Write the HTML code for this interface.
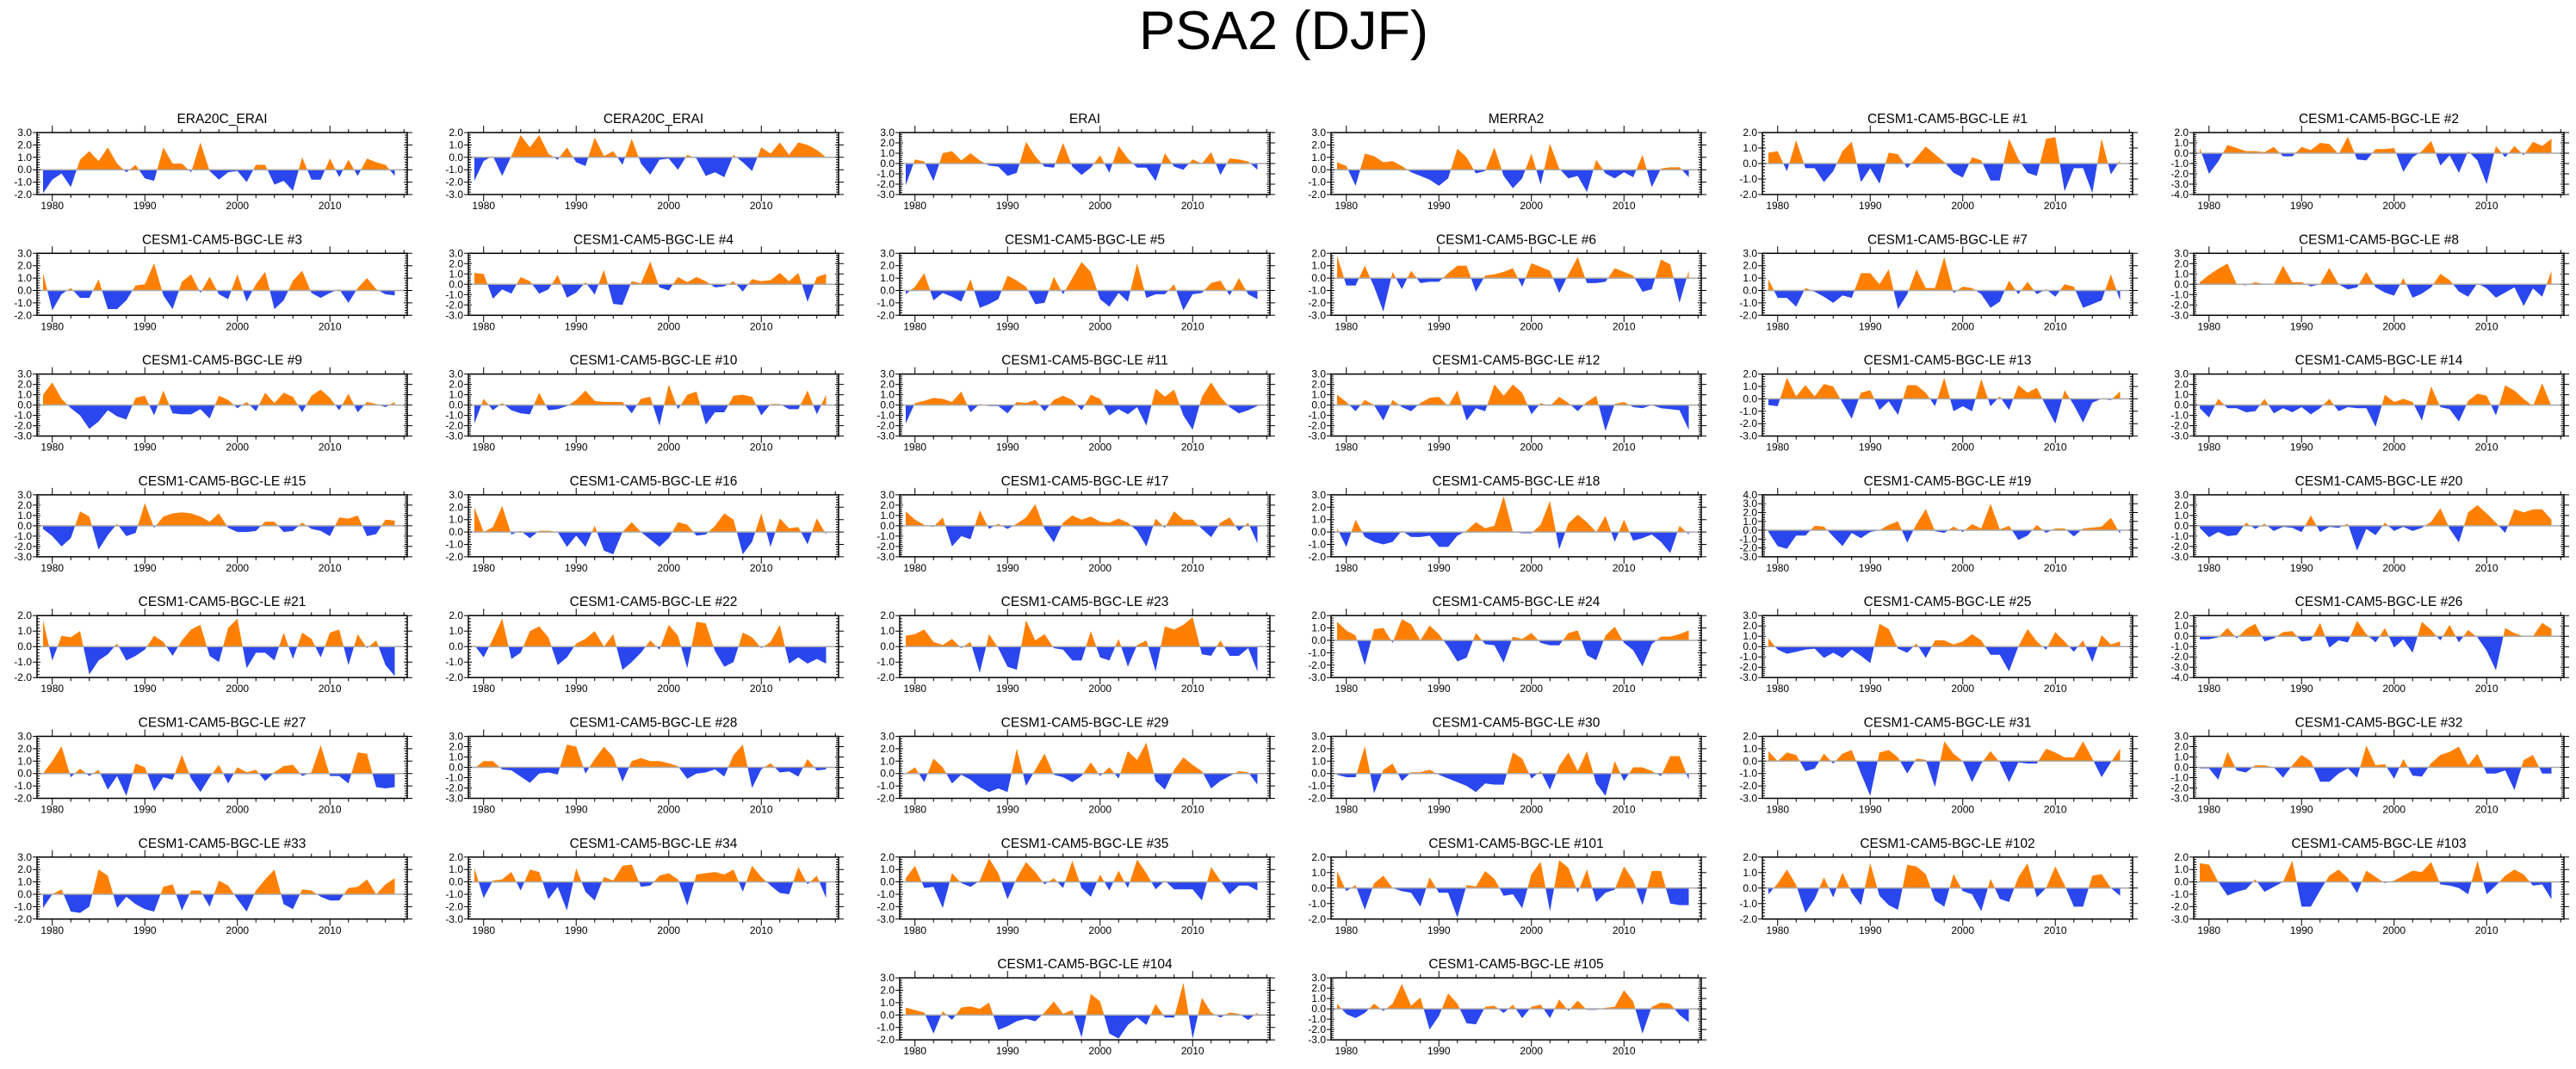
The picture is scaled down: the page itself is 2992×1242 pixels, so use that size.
<!DOCTYPE html>
<html><head><meta charset="utf-8"><title>PSA2 (DJF)</title>
<style>html,body{margin:0;padding:0;background:#fff;}svg{display:block;}</style></head>
<body>
<svg id="chart" xmlns="http://www.w3.org/2000/svg" width="2992" height="1242" viewBox="0 0 2992 1242" font-family="Liberation Sans, sans-serif">
<rect x="0" y="0" width="2992" height="1242" fill="#fff"/>
<text x="1491" y="57" font-size="63" text-anchor="middle" fill="#000">PSA2 (DJF)</text>
<g id="panels"></g>
</svg>
<script>
const panelNames = ["ERA20C_ERAI","CERA20C_ERAI","ERAI","MERRA2","CESM1-CAM5-BGC-LE #1","CESM1-CAM5-BGC-LE #2",
"CESM1-CAM5-BGC-LE #3","CESM1-CAM5-BGC-LE #4","CESM1-CAM5-BGC-LE #5","CESM1-CAM5-BGC-LE #6","CESM1-CAM5-BGC-LE #7","CESM1-CAM5-BGC-LE #8",
"CESM1-CAM5-BGC-LE #9","CESM1-CAM5-BGC-LE #10","CESM1-CAM5-BGC-LE #11","CESM1-CAM5-BGC-LE #12","CESM1-CAM5-BGC-LE #13","CESM1-CAM5-BGC-LE #14",
"CESM1-CAM5-BGC-LE #15","CESM1-CAM5-BGC-LE #16","CESM1-CAM5-BGC-LE #17","CESM1-CAM5-BGC-LE #18","CESM1-CAM5-BGC-LE #19","CESM1-CAM5-BGC-LE #20",
"CESM1-CAM5-BGC-LE #21","CESM1-CAM5-BGC-LE #22","CESM1-CAM5-BGC-LE #23","CESM1-CAM5-BGC-LE #24","CESM1-CAM5-BGC-LE #25","CESM1-CAM5-BGC-LE #26",
"CESM1-CAM5-BGC-LE #27","CESM1-CAM5-BGC-LE #28","CESM1-CAM5-BGC-LE #29","CESM1-CAM5-BGC-LE #30","CESM1-CAM5-BGC-LE #31","CESM1-CAM5-BGC-LE #32",
"CESM1-CAM5-BGC-LE #33","CESM1-CAM5-BGC-LE #34","CESM1-CAM5-BGC-LE #35","CESM1-CAM5-BGC-LE #101","CESM1-CAM5-BGC-LE #102","CESM1-CAM5-BGC-LE #103",
"CESM1-CAM5-BGC-LE #104","CESM1-CAM5-BGC-LE #105"];
const yMins = [-2,-3,-3,-2,-2,-4, -2,-3,-2,-3,-2,-3, -3,-3,-3,-3,-3,-3, -3,-2,-3,-2,-3,-3, -2,-2,-2,-3,-3,-4, -2,-3,-2,-2,-3,-3, -2,-3,-3,-2,-2,-3, -2,-3];
const yMaxs = [3,2,3,3,2,2, 3,3,3,2,3,3, 3,3,3,3,2,3, 3,3,3,3,4,3, 2,2,2,2,3,2, 3,3,3,3,2,3, 3,2,2,2,2,2, 3,3];
const years = [];
for (let y = 1979; y <= 2017; y++) years.push(y);
const yearTickLabels = [1980,1990,2000,2010];

const s_era20c = [-1.9,-0.8,-0.3,-1.4,0.8,1.5,0.7,1.8,0.5,-0.2,0.4,-0.7,-0.9,1.8,0.5,0.5,-0.2,2.2,-0.1,-0.8,-0.2,-0.1,-1.0,0.4,0.4,-1.2,-0.9,-1.7,1.0,-0.8,-0.8,0.9,-0.6,0.8,-0.5,0.9,0.6,0.4,-0.5];
const s_cera20c = [-1.9,-0.3,0.1,-1.5,0.1,1.8,0.8,1.8,0.3,-0.2,0.8,-0.4,-0.7,1.6,0.1,0.5,-0.6,1.5,-0.5,-1.4,-0.2,-0.1,-1.0,0.2,-0.1,-1.5,-1.2,-1.6,0.2,-0.4,-1.1,0.8,0.3,1.2,0.2,1.2,1.0,0.6,0.0];
const s_erai = [-2.1,0.4,0.2,-1.7,1.0,1.2,0.3,1.0,0.3,-0.2,-0.3,-1.2,-0.9,2.1,0.7,-0.3,-0.4,2.0,-0.3,-1.1,-0.4,0.8,-0.9,1.7,0.5,-0.4,-0.4,-1.7,1.0,-0.3,-0.6,0.4,0.0,1.1,-1.1,0.5,0.4,0.2,-0.6];
const s_merra2 = [0.6,0.3,-1.3,1.3,1.1,0.6,0.7,0.3,-0.2,-0.5,-0.8,-1.3,-0.7,1.7,1.0,-0.3,-0.1,1.8,-0.5,-1.5,-0.7,1.3,-1.2,2.1,0.1,-0.7,-0.5,-1.8,0.8,-0.3,-0.7,-0.2,-0.6,1.2,-1.4,0.1,0.2,0.2,-0.6];
const s_m1 = [0.7,0.8,-0.5,1.5,-0.3,-0.3,-1.2,-0.5,0.8,1.4,-1.2,-0.3,-1.3,0.7,0.6,-0.3,0.4,1.1,0.6,0.1,-0.6,-0.9,0.4,0.2,-1.1,-1.1,1.6,0.3,-0.6,-0.8,1.6,1.7,-1.8,-0.3,-0.3,-1.9,1.6,-0.7,0.2];
const s_m2 = [0.5,-2.0,-0.8,0.8,0.5,0.2,0.2,0.1,0.6,-0.3,-0.3,0.6,0.3,1.0,0.9,-0.1,1.6,-0.6,-0.7,0.4,0.4,0.5,-1.8,-0.4,0.2,1.2,-1.2,-0.2,-1.9,0.2,-0.7,-3.0,0.7,-0.4,0.7,-0.2,1.1,0.7,1.4];
const s_m3 = [1.4,-1.6,-0.3,0.2,-0.6,-0.6,0.9,-1.5,-1.5,-0.8,0.4,0.5,2.2,-0.4,-1.5,0.7,1.3,-0.2,1.1,-0.3,-0.7,1.3,-0.9,0.5,1.5,-1.5,-0.8,0.8,1.6,-0.2,-0.6,-0.2,0.1,-1.0,0.2,1.0,0.1,-0.3,-0.4];
const s_m4 = [1.1,1.0,-1.4,-0.5,-0.9,0.7,0.3,-0.9,-0.5,0.9,-1.3,-0.8,0.2,-1.0,1.4,-1.9,-2.0,0.3,0.1,2.2,-0.3,-0.6,0.7,0.2,0.7,0.3,-0.3,-0.2,0.3,-0.7,0.5,0.3,0.4,1.1,0.3,1.1,-1.7,0.7,1.0];
const s_m5 = [-0.3,0.3,1.4,-0.8,-0.2,-0.5,-0.9,0.9,-1.4,-1.1,-0.7,1.2,0.8,0.3,-1.1,-1.0,1.1,-0.3,1.0,2.3,1.5,-0.7,-1.3,-0.2,-0.9,2.2,-0.6,-0.3,-0.3,0.5,-1.6,-0.3,-0.2,0.6,0.8,-0.4,1.0,-0.3,-0.7];
const s_m6 = [1.8,-0.6,-0.6,1.0,-0.7,-2.7,0.5,-0.9,0.6,-0.4,-0.3,-0.3,0.4,1.0,1.0,-1.1,0.2,0.3,0.5,0.8,-0.7,1.2,0.9,0.6,-1.2,0.3,1.7,-0.4,-0.4,-0.3,0.8,0.5,0.2,-1.1,-0.9,1.5,1.1,-2.0,0.6];
const s_m7 = [0.9,-0.6,-0.6,-1.3,0.2,-0.1,-0.5,-1.0,-0.4,-0.6,1.4,1.4,0.5,1.7,-1.5,-0.3,1.7,0.2,0.2,2.7,-0.2,0.3,0.2,-0.3,-1.4,-0.9,0.8,-0.3,0.7,-0.3,0.1,-0.5,0.5,0.3,-1.4,-1.1,-0.8,1.3,-0.8];
const s_m8 = [0.2,0.9,1.5,2.0,0.0,-0.1,0.2,0.0,0.0,1.8,0.2,0.2,-0.2,0.0,1.6,0.0,-0.5,-0.3,1.2,-0.3,-0.8,-1.1,0.6,-1.3,-0.9,-0.3,1.0,0.4,-0.7,-1.2,0.1,-0.4,-1.3,-0.8,-0.3,-2.1,-0.4,-1.2,1.3];
const s_m9 = [1.0,2.2,0.6,-0.3,-1.0,-2.3,-1.6,-0.5,-1.1,-1.4,0.7,0.9,-1.0,1.4,-0.8,-0.9,-0.9,-0.4,-1.3,0.9,0.5,-0.3,0.3,-0.6,1.2,0.2,1.2,0.8,-0.7,0.9,1.5,0.7,-0.5,1.1,-0.7,0.3,0.1,-0.2,0.3];
const s_m10 = [-1.8,0.6,-0.5,0.2,-0.5,-0.8,-0.9,1.2,-0.5,-0.4,-0.1,0.5,1.4,0.4,0.3,0.3,0.3,-0.8,0.6,0.8,-2.0,2.0,-0.4,1.0,1.3,-1.9,-0.7,-0.7,0.9,1.0,0.8,-1.0,0.1,0.1,-0.4,-0.4,1.4,-0.9,1.0];
const s_m11 = [-1.8,0.2,0.4,0.7,0.6,0.3,1.3,-0.7,0.1,-0.1,-0.1,-0.8,0.3,0.2,0.5,-0.6,0.5,0.9,0.5,-0.5,1.0,0.6,-1.0,-0.4,-0.9,-0.2,-2.0,1.6,0.8,1.5,-1.0,-2.4,0.8,2.2,0.8,-0.2,-0.8,-0.5,-0.1];
const s_m12 = [1.0,0.3,-0.6,0.5,0.0,-1.5,0.5,-0.2,-0.6,0.2,0.7,0.8,-0.1,1.4,-1.5,-0.3,-0.6,2.0,0.9,2.0,1.2,-0.9,0.2,-0.1,0.8,0.2,-0.6,0.3,0.9,-2.5,0.1,0.3,-0.2,-0.3,0.0,-0.3,-0.4,-0.5,-2.4];
const s_m13 = [-0.5,-0.6,1.7,0.2,1.1,0.2,1.2,1.0,-0.3,-1.6,0.5,0.7,-0.9,-0.2,-1.3,1.1,1.1,0.5,-0.6,1.7,-1.0,-0.6,-1.0,1.6,-0.6,0.2,-0.9,1.1,0.5,0.9,-0.6,-2.0,0.7,-0.5,-1.9,-0.3,0.0,-0.1,0.6];
const s_m14 = [-0.3,-1.2,0.6,-0.3,-0.3,-0.7,-0.6,0.6,-0.8,-0.3,-0.7,-0.2,-0.9,-0.3,0.6,-0.6,-0.2,-0.3,-0.3,-2.1,1.0,0.3,0.6,0.3,-1.5,1.8,-0.2,-0.4,-1.6,0.4,1.1,0.9,-1.0,1.9,1.4,0.6,-0.1,2.1,-0.1];
const s_m15 = [-0.3,-1.0,-2.0,-1.2,1.4,0.9,-2.3,-0.9,0.2,-1.0,-0.7,2.2,-0.2,0.9,1.2,1.3,1.2,0.9,0.4,1.2,-0.2,-0.6,-0.6,-0.5,0.4,0.4,-0.6,-0.5,0.3,-0.3,-0.5,-1.0,0.8,0.7,1.0,-1.0,-0.8,0.6,0.5];
const s_m16 = [2.0,0.0,0.4,2.1,-0.2,0.1,-0.5,0.1,0.1,0.0,-1.2,-0.3,-1.2,0.5,-1.5,-1.8,0.0,0.8,0.0,-0.6,-1.2,-0.5,0.8,0.6,-0.3,-0.2,0.5,1.5,1.0,-1.8,-0.8,1.5,-1.2,1.1,0.3,0.4,-1.0,1.1,-0.2];
const s_m17 = [1.4,0.6,0.1,-0.1,0.8,-2.0,-1.0,-1.3,1.5,-0.3,0.2,-0.3,0.2,0.8,2.1,-0.3,-1.6,0.3,1.0,0.6,0.9,0.4,0.3,0.7,0.3,-0.5,-2.0,0.7,-0.2,1.4,0.6,0.6,-0.3,-1.1,0.3,0.8,-0.5,0.3,-1.7];
const s_m18 = [0.3,-1.2,1.0,-0.4,-0.8,-1.0,-0.8,0.1,-0.4,-0.4,-0.3,-1.2,-1.2,-0.3,0.1,0.8,0.3,0.5,2.9,0.0,-0.1,-0.1,0.6,2.5,-1.4,0.7,1.4,0.8,0.0,1.3,-0.8,1.0,-0.7,-0.5,-0.2,-0.8,-1.7,0.5,-0.2];
const s_m19 = [-0.2,-1.8,-2.1,-0.6,-0.6,0.5,0.4,-0.7,-1.8,-0.3,-0.9,-0.2,0.0,0.6,1.0,-1.4,0.7,2.4,-0.1,-0.3,0.4,-0.2,0.7,0.2,3.0,0.1,0.5,-1.1,-0.6,0.6,-0.3,0.2,0.2,-0.7,0.2,0.3,0.4,1.4,-0.4];
const s_m20 = [-0.2,-1.1,-0.6,-1.0,-0.9,0.3,-0.3,0.2,-0.5,-0.1,-0.2,-0.6,1.0,-0.6,-0.1,-0.2,0.2,-2.4,-0.3,-0.9,0.3,-0.5,-0.1,-0.5,-0.2,0.4,1.7,-0.3,-1.6,1.3,2.0,1.2,0.3,-0.7,1.6,1.3,1.6,1.6,0.6];
const s_m21 = [1.7,-0.9,0.7,0.6,1.0,-1.8,-0.9,-0.5,0.2,-0.9,-0.6,-0.2,0.7,0.3,-0.6,0.4,1.1,1.4,-0.6,-1.0,1.2,1.8,-1.4,-0.4,-0.4,-0.9,0.9,-0.8,0.9,0.5,-0.7,0.9,1.1,-1.2,0.8,-0.1,0.4,-1.2,-1.9];
const s_m22 = [0.1,-0.7,0.5,1.8,-0.8,-0.4,1.0,1.3,0.6,-1.2,-0.7,0.2,0.5,1.0,0.0,0.8,-1.5,-1.0,-0.4,0.4,-0.2,1.4,0.7,-1.4,1.6,1.5,-0.3,-1.3,-1.0,0.9,0.6,-0.1,0.3,1.4,-1.1,-0.7,-1.1,-0.8,-1.1];
const s_m23 = [0.7,0.8,1.1,0.3,0.1,0.5,-0.1,0.3,-1.7,0.8,-0.1,-1.3,-1.5,1.7,0.4,0.8,-0.1,-0.2,-0.9,-0.9,1.0,-0.7,-0.9,0.5,-1.3,0.1,0.4,-1.6,1.3,1.1,1.4,1.9,-0.5,-0.6,0.4,-0.6,-0.6,-0.1,-1.6];
const s_m24 = [1.5,0.8,0.4,-2.0,0.9,1.0,-0.2,1.7,1.3,0.0,1.2,0.5,-0.5,-1.7,-1.4,0.6,-0.3,-0.4,-1.8,0.3,0.1,0.6,-0.2,-0.4,-0.4,0.6,0.8,-1.2,-1.6,0.4,1.1,-0.2,-0.8,-2.1,-0.3,0.3,0.3,0.5,0.8];
const s_m25 = [0.8,-0.3,-0.7,-0.5,-0.3,-0.2,-1.1,-0.6,-1.1,-0.3,-0.9,-1.6,2.2,1.7,-0.2,-0.6,0.3,-1.1,0.6,0.6,0.2,0.5,1.2,0.6,-0.8,-0.8,-2.4,0.0,1.7,0.5,-0.3,1.4,0.5,-0.5,0.6,-1.5,1.1,0.2,0.5];
const s_m26 = [-0.3,-0.3,-0.1,0.8,-0.2,0.7,1.2,-0.5,-0.2,0.4,0.5,-0.5,-0.4,1.3,-1.1,-0.4,-0.6,1.5,0.2,-0.6,0.8,-1.1,-0.3,-1.6,1.4,0.6,-0.4,1.1,-0.6,0.6,-0.1,-1.4,-3.3,0.8,0.3,0.0,0.0,1.3,0.7];
const s_m27 = [0.0,1.0,2.2,-0.3,0.4,-0.2,0.3,-1.3,-0.2,-1.8,0.8,0.5,-1.4,-0.3,-0.5,1.5,-0.4,-1.5,-0.3,0.7,-0.8,0.5,0.1,0.3,-0.6,0.1,0.6,0.7,-0.2,0.1,2.3,-0.2,-0.2,-0.8,1.7,1.6,-1.1,-1.2,-1.1];
const s_m28 = [-0.1,0.6,0.6,-0.2,-0.3,-0.9,-1.5,-0.6,-0.5,-0.7,2.2,2.0,-0.6,0.8,2.0,1.0,-1.4,0.6,0.9,0.6,0.6,0.4,0.1,-1.1,-0.6,-0.5,-0.2,-0.9,1.2,2.2,-2.0,-0.2,0.4,-0.5,-0.4,-0.9,0.8,-0.3,-0.2];
const s_m29 = [0.0,0.5,-0.7,1.2,0.5,-0.8,-0.1,-0.5,-1.1,-1.5,-1.2,-1.5,2.0,-1.0,0.3,1.6,-0.1,-0.3,-0.7,-0.2,0.9,-0.2,0.5,-0.4,1.8,1.1,2.5,-0.6,-1.3,0.3,1.3,0.7,0.2,-1.2,-0.6,-0.2,0.2,0.1,-0.9];
const s_m30 = [-0.1,-0.3,-0.3,2.2,-1.6,0.3,0.8,-0.6,0.1,0.1,0.3,-0.1,-0.4,-0.7,-1.0,-1.5,-0.8,-0.9,-0.9,1.7,1.2,-0.4,0.2,-1.3,0.6,1.7,0.2,1.8,-0.8,-1.8,1.0,-0.6,0.5,0.5,0.2,-0.2,1.4,1.4,-0.5];
const s_m31 = [0.8,0.0,0.7,0.5,-0.8,-0.6,0.6,-0.2,0.6,0.9,-1.0,-2.8,0.7,0.9,0.3,-1.0,0.2,0.1,-2.1,1.6,0.6,0.0,-1.7,-0.2,0.8,-0.1,-1.7,-0.1,-0.2,-0.2,1.0,0.7,0.3,0.3,1.6,0.2,-1.3,-0.1,1.0];
const s_m32 = [-0.1,-0.1,-1.2,1.5,-0.3,-0.5,0.2,0.2,0.0,-1.0,0.2,1.2,0.6,-1.4,-1.4,-0.6,-0.1,-1.0,2.1,0.2,0.3,-1.1,0.8,-0.8,-0.9,0.4,1.2,1.5,2.0,0.2,1.3,-0.6,-0.6,-0.3,-2.2,0.7,1.2,-0.6,-0.6];
const s_m33 = [-1.1,0.0,0.4,-1.4,-1.5,-1.0,2.0,1.5,-1.1,-0.2,-0.8,-1.2,-1.4,0.6,0.8,-1.3,0.3,0.3,-1.0,1.1,0.7,-0.4,-1.4,0.3,1.2,2.0,-0.8,-1.2,0.4,0.3,-0.2,-0.5,-0.5,0.5,0.6,1.2,0.0,0.8,1.3];
const s_m34 = [1.1,-1.3,0.1,0.2,0.8,-0.7,1.0,0.8,-1.4,-0.4,-2.3,1.1,-0.8,-1.5,0.4,0.1,1.3,1.4,-0.4,-0.3,0.5,0.7,0.2,-1.9,0.6,0.7,0.8,0.6,1.0,-0.8,1.3,0.4,-0.3,-0.9,-1.0,1.2,-0.2,0.5,-1.3];
const s_m35 = [0.3,1.3,-0.5,-0.4,-2.1,0.7,-0.1,-0.4,0.1,1.9,0.7,-1.4,0.3,1.6,0.8,-0.2,0.3,-0.5,1.7,-0.5,-1.2,0.6,-0.7,0.9,-0.5,1.8,0.7,-0.6,0.1,-0.6,-0.6,-0.6,-1.5,1.2,0.1,-1.0,-0.3,-0.3,-0.7];
const s_m101 = [1.1,-0.2,0.2,-1.4,0.3,0.8,0.0,-0.2,-0.3,-1.2,0.7,-0.3,-0.3,-1.9,0.2,0.1,1.1,0.6,-0.5,-0.4,-1.3,0.9,1.7,-1.5,1.8,1.3,-0.3,1.2,-0.9,-0.3,-0.1,1.4,0.5,-1.1,1.1,1.1,-1.0,-1.1,-1.1];
const s_m102 = [-0.4,0.3,1.2,0.2,-1.6,-0.7,0.7,-0.6,1.0,-0.3,-1.1,1.6,-0.5,-1.1,-1.4,1.5,1.4,0.9,-0.8,-1.2,0.9,-0.2,-0.4,-1.5,0.6,-0.7,-0.9,0.7,1.6,-0.6,0.0,1.4,0.2,-1.2,-1.2,0.8,0.9,0.0,-0.5];
const s_m103 = [1.5,1.4,0.0,-1.1,-0.8,-0.6,0.2,-0.8,-0.4,0.0,1.7,-2.0,-2.0,-0.7,0.5,1.0,0.3,-0.9,0.9,0.4,-0.1,0.1,0.5,0.9,0.8,1.6,-0.2,-0.3,-0.5,-1.0,1.7,-1.0,-0.3,0.5,1.0,0.6,-0.3,-0.2,-1.4];
const s_m104 = [0.6,0.4,0.2,-1.5,0.3,-0.4,0.6,0.7,0.5,1.0,-1.2,-0.9,-0.5,-0.3,-0.5,0.2,1.1,0.1,0.4,-1.8,1.7,1.1,-1.5,-1.9,-0.8,-0.2,-0.8,0.9,-0.2,-0.2,2.6,-1.9,1.4,0.2,-0.2,0.2,0.1,-0.4,0.2];
const s_m105 = [0.5,-0.5,-0.9,-0.4,0.5,-0.2,0.5,2.4,0.3,1.1,-2.0,-0.7,1.5,0.5,-1.4,-1.5,0.2,0.3,-0.4,0.4,-0.9,0.2,0.4,-0.9,0.9,-0.2,0.8,-0.1,-0.1,0.1,0.2,1.8,0.7,-2.4,0.2,0.6,0.5,-0.6,-1.3];

const seriesList = [s_era20c,s_cera20c,s_erai,s_merra2,s_m1,s_m2,s_m3,s_m4,s_m5,s_m6,s_m7,s_m8,s_m9,s_m10,s_m11,s_m12,s_m13,s_m14,s_m15,s_m16,s_m17,s_m18,s_m19,s_m20,s_m21,s_m22,s_m23,s_m24,s_m25,s_m26,s_m27,s_m28,s_m29,s_m30,s_m31,s_m32,s_m33,s_m34,s_m35,s_m101,s_m102,s_m103,s_m104,s_m105];

const NS = "http://www.w3.org/2000/svg";
const root = document.getElementById("panels");
const PW = 430, PH = 72, X0 = 43, Y0 = 154, DX = 501, DY = 140.3;
const XMIN = 1978.35, XMAX = 2018.35;
function mk(tag, attrs, parent) {
  const e = document.createElementNS(NS, tag);
  for (const k in attrs) e.setAttribute(k, attrs[k]);
  parent.appendChild(e);
  return e;
}
function slug(s) { return s.toLowerCase().replace(/[^a-z0-9]+/g, "-").replace(/^-|-$/g, ""); }

panelNames.forEach((name, idx) => {
  let row, col;
  if (idx < 42) { row = Math.floor(idx / 6); col = idx % 6; } else { row = 7; col = idx - 40; }
  const left = X0 + col * DX, top = Y0 + row * DY;
  const ymin = yMins[idx], ymax = yMaxs[idx];
  const vals = seriesList[idx];
  const sx = yr => left + (yr - XMIN) / (XMAX - XMIN) * PW;
  const sy = v => top + (ymax - v) / (ymax - ymin) * PH;
  const g = mk("g", {}, root);
  
  

  const title = mk("text", {x: left + PW / 2, y: top - 11, "font-size": 15.5, "text-anchor": "middle", fill: "#000"}, g);
  title.textContent = name;
  
  

  // build points with zero crossings
  const pts = [];
  for (let i = 0; i < vals.length; i++) {
    const x = 1979 + i, v = vals[i];
    if (i > 0) {
      const pv = vals[i - 1];
      if ((pv > 0 && v < 0) || (pv < 0 && v > 0)) {
        const t = pv / (pv - v);
        pts.push([x - 1 + t, 0]);
      }
    }
    pts.push([x, v]);
  }
  const zy = sy(0);
  function poly(sign) {
    let d = "M" + sx(pts[0][0]).toFixed(2) + "," + zy.toFixed(2);
    pts.forEach(p => {
      const v = sign > 0 ? Math.max(p[1], 0) : Math.min(p[1], 0);
      d += "L" + sx(p[0]).toFixed(2) + "," + sy(v).toFixed(2);
    });
    d += "L" + sx(pts[pts.length - 1][0]).toFixed(2) + "," + zy.toFixed(2) + "Z";
    return d;
  }
  const pos = mk("path", {d: poly(1), fill: "#ff8000", stroke: "none"}, g);
  
  
  const neg = mk("path", {d: poly(-1), fill: "#2a46ee", stroke: "none"}, g);
  
  
  const zl = mk("line", {x1: left, x2: left + PW, y1: zy, y2: zy, stroke: "#aaaaaa", "stroke-width": 1.5}, g);
  
  

  // ticks
  let tk = "";
  for (let yr = 1980; yr <= 2018; yr += 2) {
    const x = sx(yr), major = yr % 10 === 0, L = major ? 8 : 4;
    tk += "M" + x.toFixed(2) + "," + top + "v" + (-L);
    tk += "M" + x.toFixed(2) + "," + (top + PH) + "v" + L;
  }
  for (let k = Math.round(ymin * 5); k <= Math.round(ymax * 5); k++) {
    const v = k / 5, y = sy(v).toFixed(2);
    if (k % 5 === 0) {
      tk += "M" + (left - 5) + "," + y + "h5";
      tk += "M" + (left + PW) + "," + y + "h6";
      tk += "M" + left + "," + y + "h4";
      tk += "M" + (left + PW) + "," + y + "h-4";
    } else {
      tk += "M" + left + "," + y + "h3";
      tk += "M" + (left + PW) + "," + y + "h-3";
    }
  }
  const ticks = mk("path", {d: tk, stroke: "#000", "stroke-width": 1, fill: "none"}, g);
  
  

  const box = mk("rect", {x: left, y: top, width: PW, height: PH, fill: "none", stroke: "#000", "stroke-width": 1.5}, g);
  
  

  for (let v = ymin; v <= ymax; v++) {
    const t = mk("text", {x: left - 6, y: sy(v) + 4, "font-size": 12, "text-anchor": "end", fill: "#000"}, g);
    t.textContent = v.toFixed(1);
    
    
  }
  yearTickLabels.forEach(yr => {
    const t = mk("text", {x: sx(yr), y: top + PH + 17, "font-size": 12, "text-anchor": "middle", fill: "#000"}, g);
    t.textContent = String(yr);
    
    
  });
});
</script>
</body></html>
